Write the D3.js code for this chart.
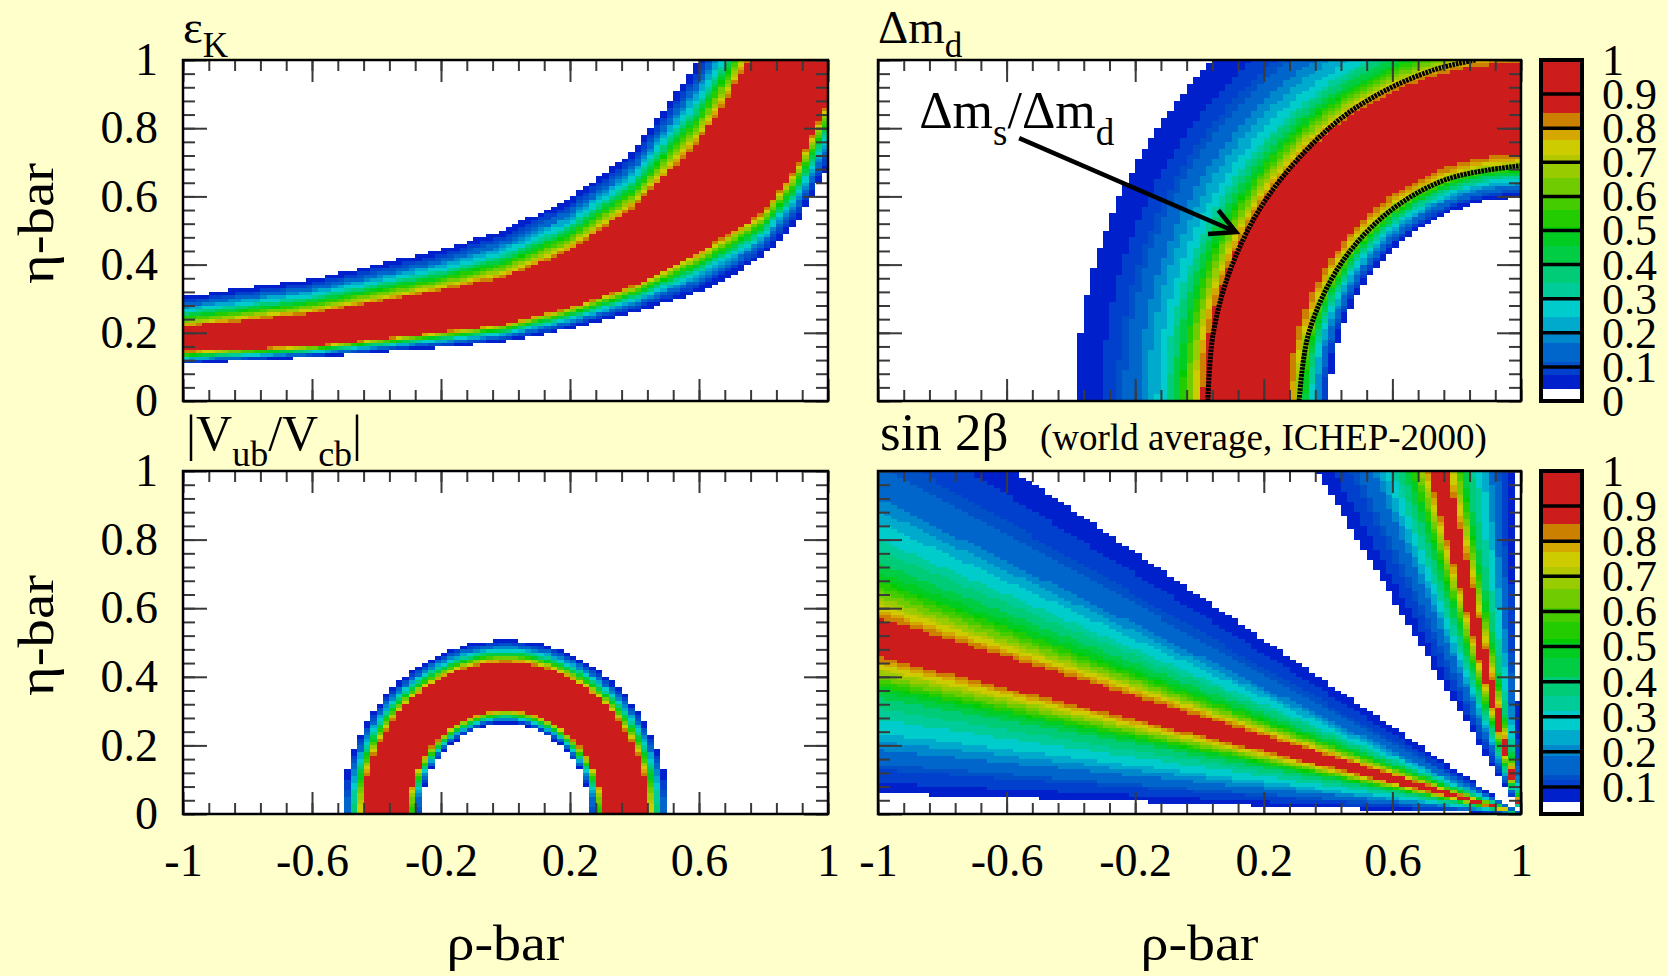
<!DOCTYPE html>
<html>
<head>
<meta charset="utf-8">
<script src="https://cdn.jsdelivr.net/npm/d3@7"></script>
<style>
  body { margin: 0; background: #ffffcc; }
  svg text { font-family: "Liberation Serif", "Times New Roman", serif; fill: #000; }
</style>
</head>
<body>
<svg id="chart"></svg>
<script>
const width = 1668, height = 976;

// ---------- axes / tick labels ----------
const xMajor = [-1, -0.6, -0.2, 0.2, 0.6, 1];
const yMajor = [0, 0.2, 0.4, 0.6, 0.8, 1];
const zLabelsTop = [0, 0.1, 0.2, 0.3, 0.4, 0.5, 0.6, 0.7, 0.8, 0.9, 1];
const zLabelsBottom = [0.1, 0.2, 0.3, 0.4, 0.5, 0.6, 0.7, 0.8, 0.9, 1];
const zLines = [0.1, 0.2, 0.3, 0.4, 0.5, 0.6, 0.7, 0.8, 0.9];
const nBins = 100;

// ---------- colour palette (lower edge of each colour) ----------
const paletteLevels = [0, 0.035, 0.075, 0.1, 0.115, 0.17, 0.2, 0.245, 0.3, 0.345, 0.4, 0.455,
  0.5, 0.51, 0.56, 0.6, 0.655, 0.7, 0.72, 0.765, 0.8, 0.845];
const paletteColors = ["#ffffff", "#0020cc", "#0040cc", "#0050c8", "#0066cc", "#0088cc", "#00aacc",
  "#00cccc", "#00cc99", "#00cc77", "#00cc44", "#00cc22", "#00cc00", "#22cc00", "#44cc00", "#70cc00",
  "#99cc00", "#b4c800", "#cccc00", "#d4a800", "#cc8000", "#cc1c1c"];

// ---------- eps_K band: edges (eta) at sampled rho ----------
const ekRho      = [-1,    -0.6,  -0.2,  0,     0.2,   0.4,  0.6,   0.7,   0.8,   0.9,   1.0];
const ekBlueLow  = [0.108, 0.128, 0.157, 0.174, 0.211, 0.26, 0.319, 0.365, 0.428, 0.516, 0.69];
const ekRedLow   = [0.145, 0.161, 0.202, 0.226, 0.275, 0.34, 0.438, 0.496, 0.555, 0.682, 0.88];
const ekRedHigh  = [0.218, 0.257, 0.324, 0.363, 0.44,  0.57, 0.76,  0.907, 1.08,  1.35,  1.9];
const ekBlueHigh = [0.306, 0.357, 0.443, 0.503, 0.595, 0.736, 1.0,  1.15,  1.4,   1.8,   2.5];
const ekProfileV = [0, 0.25, 0.5, 0.75, 1, 1.5, 2, 2.25, 2.5, 2.75, 3];
const ekProfileL = [0.036, 0.12, 0.29, 0.56, 0.85, 1, 0.85, 0.56, 0.29, 0.12, 0.036];

// ---------- Delta m_d: likelihood vs distance from (1,0) ----------
const dmdR = [0.590, 0.596, 0.612, 0.628, 0.645, 0.660, 0.675, 0.692, 0.708, 0.724, 0.85, 0.990,
  1.006, 1.032, 1.058, 1.083, 1.109, 1.135, 1.167, 1.199, 1.237, 1.308, 1.385, 1.392];
const dmdL = [0, 0.036, 0.09, 0.16, 0.25, 0.36, 0.50, 0.68, 0.78, 0.85, 1.0, 0.85,
  0.765, 0.62, 0.48, 0.38, 0.29, 0.235, 0.19, 0.16, 0.11, 0.072, 0.036, 0];
// Delta m_s / Delta m_d curves
const dmsOuterRho = [0.026, 0.043, 0.102, 0.213, 0.403, 0.557, 0.726, 0.858];
const dmsOuterEta = [0, 0.2, 0.4, 0.6, 0.8, 0.9, 0.97, 1.0];
const dmsInnerRho = [0.31, 0.34, 0.438, 0.583, 0.768, 1.0];
const dmsInnerEta = [0, 0.2, 0.4, 0.55, 0.65, 0.69];
const arrowFrom = [-0.561, 0.771];
const arrowTo = [0.1135, 0.4956];

// ---------- |Vub/Vcb|: likelihood vs distance from (0,0) ----------
const vubR = [0.255, 0.262, 0.270, 0.278, 0.286, 0.294, 0.302, 0.372, 0.443, 0.452, 0.462,
  0.472, 0.482, 0.492, 0.502, 0.507, 0.512];
const vubL = [0, 0.036, 0.10, 0.22, 0.42, 0.66, 0.85, 1.0, 0.85, 0.70, 0.50,
  0.33, 0.21, 0.12, 0.06, 0.036, 0];

// ---------- sin 2beta: likelihood vs sin 2beta ----------
const s2bS = [0.055, 0.060, 0.09, 0.128, 0.16, 0.185, 0.21, 0.232, 0.27, 0.30, 0.33, 0.359, 0.385,
  0.405, 0.419, 0.436, 0.482, 0.528, 0.547, 0.56, 0.58, 0.611, 0.645, 0.69, 0.719, 0.74, 0.759,
  0.787, 0.83, 0.87, 0.905, 0.915];
const s2bL = [0, 0.036, 0.075, 0.10, 0.13, 0.17, 0.20, 0.245, 0.30, 0.345, 0.40, 0.50, 0.63,
  0.72, 0.77, 0.85, 1.0, 0.85, 0.77, 0.72, 0.63, 0.50, 0.40, 0.30, 0.245, 0.20, 0.17,
  0.13, 0.10, 0.075, 0.036, 0];

// ---------- layout ----------
const panels = [
  { key: "ek",  left: 183, right: 828,  top: 60,  bottom: 401, xLabels: false, yLabels: true },
  { key: "dmd", left: 878, right: 1521, top: 60,  bottom: 401, xLabels: false, yLabels: false },
  { key: "vub", left: 183, right: 828,  top: 471, bottom: 814, xLabels: true,  yLabels: true },
  { key: "s2b", left: 878, right: 1521, top: 471, bottom: 814, xLabels: true,  yLabels: false }
];
const colorBars = [
  { left: 1541, right: 1582, top: 60,  bottom: 401, zmin: 0,     labels: zLabelsTop },
  { left: 1541, right: 1582, top: 471, bottom: 814, zmin: 0.023, labels: zLabelsBottom }
];

const colorScale = d3.scaleThreshold().domain(paletteLevels.slice(1)).range(paletteColors);

const ekE0 = d3.scaleLinear().domain(ekRho).range(ekBlueLow);
const ekE1 = d3.scaleLinear().domain(ekRho).range(ekRedLow);
const ekE2 = d3.scaleLinear().domain(ekRho).range(ekRedHigh);
const ekE3 = d3.scaleLinear().domain(ekRho).range(ekBlueHigh);
const ekProfile = d3.scaleLinear().domain(ekProfileV).range(ekProfileL);
const dmdScale = d3.scaleLinear().domain(dmdR).range(dmdL).clamp(true);
const vubScale = d3.scaleLinear().domain(vubR).range(vubL).clamp(true);
const s2bScale = d3.scaleLinear().domain(s2bS).range(s2bL).clamp(true);

const likelihood = {
  ek: (r, e) => {
    const edges = [ekE0(r), ekE1(r), ekE2(r), ekE3(r)];
    if (e < edges[0] || e > edges[3]) return 0;
    const v = d3.scaleLinear().domain(edges).range([0, 1, 2, 3])(e);
    return ekProfile(v);
  },
  dmd: (r, e) => dmdScale(Math.hypot(1 - r, e)),
  vub: (r, e) => vubScale(Math.hypot(r, e)),
  s2b: (r, e) => {
    const a = 1 - r;
    return s2bScale(2 * e * a / (a * a + e * e));
  }
};

const svg = d3.select("#chart")
  .attr("width", width)
  .attr("height", height)
  .attr("viewBox", [0, 0, width, height]);

svg.append("rect").attr("width", width).attr("height", height).attr("fill", "#ffffcc");

const xEdges = d3.range(nBins + 1).map(k => -1 + 2 * k / nBins);
const yEdges = d3.range(nBins + 1).map(k => k / nBins);

const scales = {};

panels.forEach(p => {
  const x = d3.scaleLinear().domain([-1, 1]).range([p.left, p.right]);
  const y = d3.scaleLinear().domain([0, 1]).range([p.bottom, p.top]);
  scales[p.key] = { x, y };

  const g = svg.append("g");
  g.append("rect")
    .attr("x", p.left).attr("y", p.top)
    .attr("width", p.right - p.left).attr("height", p.bottom - p.top)
    .attr("fill", "#fff");

  // build cells, merging equal colours along each row
  const cells = [];
  for (let j = 0; j < nBins; j++) {
    const eta = (yEdges[j] + yEdges[j + 1]) / 2;
    let run = null;
    for (let i = 0; i < nBins; i++) {
      const rho = (xEdges[i] + xEdges[i + 1]) / 2;
      const c = colorScale(likelihood[p.key](rho, eta));
      if (run && run.color === c) { run.x1 = xEdges[i + 1]; continue; }
      if (run && run.color !== "#ffffff") cells.push(run);
      run = { x0: xEdges[i], x1: xEdges[i + 1], y0: yEdges[j], y1: yEdges[j + 1], color: c };
    }
    if (run && run.color !== "#ffffff") cells.push(run);
  }

  g.selectAll("rect.cell")
    .data(cells)
    .join("rect")
      .attr("class", "cell")
      .attr("x", d => x(d.x0))
      .attr("y", d => y(d.y1))
      .attr("width", d => x(d.x1) - x(d.x0))
      .attr("height", d => y(d.y0) - y(d.y1))
      .attr("fill", d => d.color)
      .attr("shape-rendering", "crispEdges");
});

// titles / rich text helper
function richText(parent, x, y, parts, size, subSize, subShift) {
  const t = parent.append("text").attr("x", x).attr("y", y).attr("font-size", size);
  let shifted = false;
  parts.forEach(([s, sub]) => {
    const dy = sub && !shifted ? subShift : (!sub && shifted ? -subShift : 0);
    shifted = !!sub;
    t.append("tspan").attr("dy", dy).attr("font-size", sub ? subSize : size).text(s);
  });
  return t;
}

// Delta m_s / Delta m_d curves, arrow and label
{
  const { x, y } = scales.dmd;
  const p = panels[1];
  svg.append("clipPath").attr("id", "clip-dmd")
    .append("rect").attr("x", p.left).attr("y", p.top)
    .attr("width", p.right - p.left).attr("height", p.bottom - p.top);

  const line = d3.line().x(d => x(d[0])).y(d => y(d[1])).curve(d3.curveCatmullRom);
  [d3.zip(dmsOuterRho, dmsOuterEta), d3.zip(dmsInnerRho, dmsInnerEta)].forEach(pts => {
    svg.append("path")
      .attr("clip-path", "url(#clip-dmd)")
      .attr("d", line(pts))
      .attr("fill", "none")
      .attr("stroke", "#000")
      .attr("stroke-width", 5)
      .attr("stroke-dasharray", "2.6 0.9");
  });

  const x0 = x(arrowFrom[0]), y0 = y(arrowFrom[1]);
  const x1 = x(arrowTo[0]), y1 = y(arrowTo[1]);
  const ang = Math.atan2(y1 - y0, x1 - x0);
  const head = 28, spread = 0.48;
  const path = d3.path();
  path.moveTo(x0, y0); path.lineTo(x1, y1);
  path.moveTo(x1 - head * Math.cos(ang - spread), y1 - head * Math.sin(ang - spread));
  path.lineTo(x1, y1);
  path.lineTo(x1 - head * Math.cos(ang + spread), y1 - head * Math.sin(ang + spread));
  svg.append("path").attr("d", path.toString())
    .attr("fill", "none").attr("stroke", "#000").attr("stroke-width", 4.5)
    .attr("stroke-linejoin", "miter");

  richText(svg, x(-0.872), y(0.80), [["Δm", 0], ["s", 1], ["/Δm", 0], ["d", 1]], 52, 37, 17);
}

// ticks, labels, frames
panels.forEach(p => {
  const { x, y } = scales[p.key];
  const g = svg.append("g");
  const xMinor = d3.range(26).map(k => -1 + k * 0.08);
  const yMinor = d3.range(26).map(k => k * 0.04);
  const style = sel => {
    sel.select(".domain").remove();
    sel.selectAll(".tick line").attr("stroke", "#3a3a3a").attr("stroke-width", 2);
    sel.attr("font-family", null).attr("font-size", 46);
  };

  g.append("g").attr("transform", `translate(0,${p.bottom})`)
    .call(d3.axisBottom(x).tickValues(xMinor).tickSize(-11).tickFormat(() => "")).call(style);
  g.append("g").attr("transform", `translate(0,${p.top})`)
    .call(d3.axisTop(x).tickValues(xMinor).tickSize(-11).tickFormat(() => "")).call(style);
  g.append("g").attr("transform", `translate(${p.left},0)`)
    .call(d3.axisLeft(y).tickValues(yMinor).tickSize(-12).tickFormat(() => "")).call(style);
  g.append("g").attr("transform", `translate(${p.right},0)`)
    .call(d3.axisRight(y).tickValues(yMinor).tickSize(-12).tickFormat(() => "")).call(style);

  g.append("g").attr("transform", `translate(0,${p.bottom})`)
    .call(d3.axisBottom(x).tickValues(xMajor).tickSize(-22).tickPadding(29)
      .tickFormat(d => p.xLabels ? String(d) : "")).call(style);
  g.append("g").attr("transform", `translate(0,${p.top})`)
    .call(d3.axisTop(x).tickValues(xMajor).tickSize(-22).tickFormat(() => "")).call(style);
  g.append("g").attr("transform", `translate(${p.left},0)`)
    .call(d3.axisLeft(y).tickValues(yMajor).tickSize(-24).tickPadding(25)
      .tickFormat(d => p.yLabels ? String(d) : "")).call(style);
  g.append("g").attr("transform", `translate(${p.right},0)`)
    .call(d3.axisRight(y).tickValues(yMajor).tickSize(-24).tickFormat(() => "")).call(style);

  g.selectAll(".tick text").attr("fill", "#000");

  g.append("rect")
    .attr("x", p.left).attr("y", p.top)
    .attr("width", p.right - p.left).attr("height", p.bottom - p.top)
    .attr("fill", "none").attr("stroke", "#000").attr("stroke-width", 2.5);
});

// colour bars
colorBars.forEach(cb => {
  const z = d3.scaleLinear().domain([cb.zmin, 1]).range([cb.bottom, cb.top]);
  const g = svg.append("g");
  const bands = paletteLevels.map((lv, k) => ({
    z0: cb.zmin + lv * (1 - cb.zmin),
    z1: cb.zmin + (k + 1 < paletteLevels.length ? paletteLevels[k + 1] : 1) * (1 - cb.zmin),
    color: paletteColors[k]
  }));
  g.selectAll("rect.band")
    .data(bands)
    .join("rect")
      .attr("class", "band")
      .attr("x", cb.left).attr("width", cb.right - cb.left)
      .attr("y", d => z(d.z1)).attr("height", d => z(d.z0) - z(d.z1))
      .attr("fill", d => d.color)
      .attr("shape-rendering", "crispEdges");
  g.selectAll("line.sep")
    .data(zLines)
    .join("line")
      .attr("x1", cb.left).attr("x2", cb.right)
      .attr("y1", d => z(d)).attr("y2", d => z(d))
      .attr("stroke", "#000").attr("stroke-width", 3.5);
  g.append("rect")
    .attr("x", cb.left).attr("y", cb.top)
    .attr("width", cb.right - cb.left).attr("height", cb.bottom - cb.top)
    .attr("fill", "none").attr("stroke", "#000").attr("stroke-width", 4);
  g.selectAll("text")
    .data(cb.labels)
    .join("text")
      .attr("x", 1602)
      .attr("y", d => z(d))
      .attr("dy", "0.34em")
      .attr("font-size", 44)
      .text(d => String(d));
});

richText(svg, 183, 43, [["ε", 0], ["K", 1]], 47, 35, 14);
richText(svg, 878, 43, [["Δm", 0], ["d", 1]], 47, 35, 14);
richText(svg, 186, 450, [["|V", 0], ["ub", 1], ["/V", 0], ["cb", 1], ["|", 0]], 50, 36, 16);
svg.append("text").attr("x", 880).attr("y", 450).attr("font-size", 53).text("sin 2β");
svg.append("text").attr("x", 1040).attr("y", 450).attr("font-size", 37).text("(world average, ICHEP-2000)");

// axis titles
[panels[2], panels[3]].forEach(p => {
  svg.append("text")
    .attr("x", (p.left + p.right) / 2).attr("y", 960)
    .attr("text-anchor", "middle").attr("font-size", 50)
    .attr("textLength", 118).attr("lengthAdjust", "spacingAndGlyphs")
    .text("ρ-bar");
});
[panels[0], panels[2]].forEach(p => {
  const cy = (p.top + p.bottom) / 2 - 7;
  svg.append("text")
    .attr("transform", `translate(53,${cy}) rotate(-90)`)
    .attr("text-anchor", "middle").attr("font-size", 50)
    .attr("textLength", 121).attr("lengthAdjust", "spacingAndGlyphs")
    .text("η-bar");
});
</script>
</body>
</html>
